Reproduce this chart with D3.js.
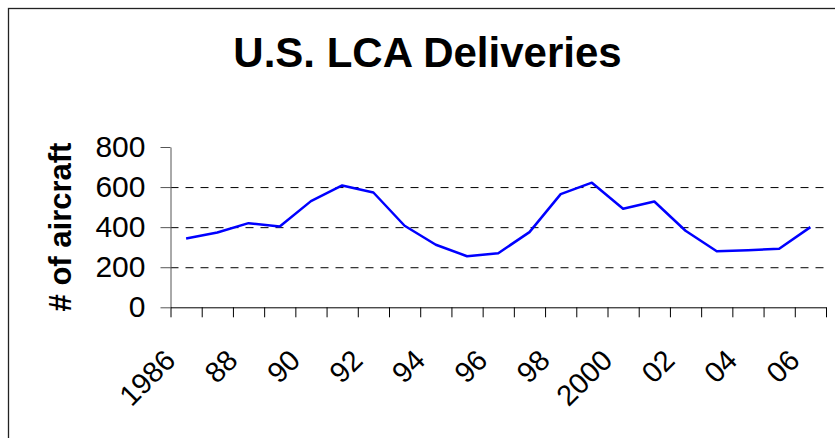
<!DOCTYPE html>
<html lang="en">
<head>
    <meta charset="UTF-8">
    <title>U.S. LCA Deliveries</title>
    <style>
        * {
            margin: 0;
            padding: 0;
        }

        body {
            background: #ffffff;
            overflow: hidden;
        }

        text {
            font-family: Arial, "Liberation Sans", sans-serif;
            fill: #000000;
        }
    </style>
</head>
<body>

<div id="container"></div>

<script src="https://cdn.jsdelivr.net/npm/d3@7/dist/d3.min.js"></script>

<script>
    "use strict";

    // deliveries per year
    var years = [1986, 1987, 1988, 1989, 1990, 1991, 1992, 1993, 1994, 1995, 1996,
        1997, 1998, 1999, 2000, 2001, 2002, 2003, 2004, 2005, 2006];

    var deliveries = [343, 373, 420, 403, 530, 608, 573, 407, 312, 255, 270,
        375, 565, 622, 492, 528, 382, 280, 285, 292, 400];

    var yearLabels = ['1986', '88', '90', '92', '94', '96', '98', '2000', '02', '04', '06'];

    var yTicks = [0, 200, 400, 600, 800];

    var gridTicks = [200, 400, 600];

    (function () {

        var settings = {
            width: 835,
            height: 438,
            plot: {left: 170.5, right: 826, top: 147, bottom: 307.3}
        };

        var svg = d3.select('#container')
            .append('svg')
            .attr('width', settings.width)
            .attr('height', settings.height);

        // chart area frame, runs off the right and bottom of the picture
        svg.append('rect')
            .attr('x', 8.5)
            .attr('y', 8.5)
            .attr('width', 900)
            .attr('height', 500)
            .attr('fill', 'none')
            .attr('stroke', '#222')
            .attr('stroke-width', 1.3);

        // boundaries between the year slots
        var x = d3.scaleLinear()
            .domain([0, years.length])
            .range([settings.plot.left, settings.plot.right]);

        var y = d3.scaleLinear()
            .domain([0, 800])
            .range([settings.plot.bottom, settings.plot.top]);

        // dashed grid
        svg.append('g')
            .attr('class', 'grid')
            .attr('transform', 'translate(' + settings.plot.left + ',0)')
            .call(d3.axisLeft(y)
                .tickValues(gridTicks)
                .tickSize(-(settings.plot.right - settings.plot.left))
                .tickFormat(''))
            .call(function (g) {
                g.select('.domain').remove();
                g.selectAll('line')
                    .attr('stroke', '#000')
                    .attr('stroke-dasharray', '8,7');
            });

        // y axis
        svg.append('g')
            .attr('transform', 'translate(' + settings.plot.left + ',0)')
            .call(d3.axisLeft(y)
                .tickValues(yTicks)
                .tickSize(10)
                .tickSizeOuter(0)
                .tickPadding(15))
            .call(function (g) {
                g.select('.domain').attr('stroke', '#555');
                g.selectAll('line').attr('stroke', '#555');
                g.selectAll('text')
                    .attr('font-size', 30)
                    .attr('font-family', 'Arial, "Liberation Sans", sans-serif');
            });

        // x axis, ticks on slot boundaries, no labels from the axis itself
        svg.append('g')
            .attr('transform', 'translate(0,' + settings.plot.bottom + ')')
            .call(d3.axisBottom(x)
                .tickValues(d3.range(years.length + 1))
                .tickSize(10)
                .tickSizeOuter(0)
                .tickFormat(''))
            .call(function (g) {
                g.select('.domain').attr('stroke', '#000');
                g.selectAll('line').attr('stroke', '#000');
            });

        // rotated year labels on every other year
        svg.append('g')
            .selectAll('text')
            .data(yearLabels)
            .enter()
            .append('text')
            .attr('font-size', 29)
            .attr('text-anchor', 'end')
            .attr('transform', function (d, i) {
                var cx = x(i * 2 + 0.5) - 9;
                return 'translate(' + cx + ',362) rotate(-45)';
            })
            .text(function (d) { return d; });

        // the series
        var line = d3.line()
            .x(function (d, i) { return x(i + 0.5); })
            .y(function (d) { return y(d); });

        svg.append('path')
            .datum(deliveries)
            .attr('d', line)
            .attr('fill', 'none')
            .attr('stroke', '#0000ff')
            .attr('stroke-width', 2.5)
            .attr('stroke-linejoin', 'round');

        // title
        svg.append('text')
            .attr('x', 427.5)
            .attr('y', 67)
            .attr('text-anchor', 'middle')
            .attr('font-size', 42)
            .attr('font-weight', 'bold')
            .text('U.S. LCA Deliveries');

        // y axis title
        svg.append('text')
            .attr('transform', 'translate(71,227) rotate(-90)')
            .attr('text-anchor', 'middle')
            .attr('font-size', 31)
            .attr('font-weight', 'bold')
            .text('# of aircraft');

    })();
</script>
</body>
</html>
